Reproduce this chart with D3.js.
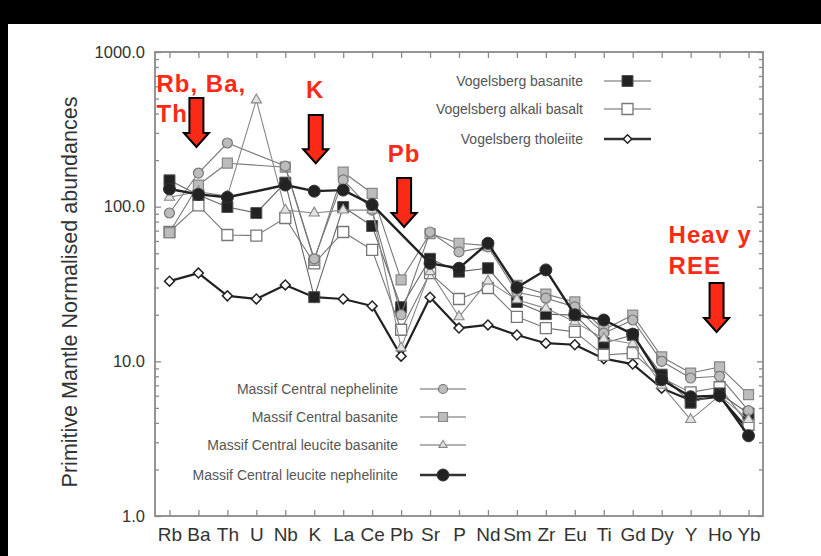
<!DOCTYPE html>
<html>
<head>
<meta charset="utf-8">
<script src="https://cdn.jsdelivr.net/npm/d3@7"></script>
<style>
  html, body { margin: 0; padding: 0; background: #000; }
  svg { display: block; }
  text { font-family: "Liberation Sans", Arial, Helvetica, sans-serif; }
</style>
</head>
<body>
<svg id="chart" width="821" height="556"></svg>
<script>
// Elements in spider-diagram order
const elements = ["Rb","Ba","Th","U","Nb","K","La","Ce","Pb","Sr","P","Nd","Sm","Zr","Eu","Ti","Gd","Dy","Y","Ho","Yb"];

// Primitive-mantle normalised abundances (null = not analysed)
const vogBasanite   = [148,119,99.5,91,143,26,99.5,75,22.4,46,38,40,24.2,20.2,19.9,13.1,14.8,8.2,5.4,6.2,4.6];
const vogAlkali     = [68.6,102,65.6,65,84.5,43,68.6,52.5,16,37.2,25.3,29.8,19.4,16.4,15.5,11,11.3,7.8,6.3,6.8,3.9];
const vogTholeiite  = [33,37.2,26.5,25.3,31.2,26,25.3,22.8,10.8,26,16.4,17.2,14.8,13.1,12.8,10.4,9.6,6.7,5.6,5.9,3.6];
const mcNephelinite = [91,165,258,null,183,46,149,95,20,68.6,51,55,28,25.6,22.5,15.2,18.5,10,7.8,8.0,4.8];
const mcBasanite    = [68,138,191,null,180,45,167,122,33.6,67,58,56,31,27.2,24.2,16,19.9,10.7,8.4,9.2,6.1];
const mcLeuBasanite = [115,125,117,490,95,91,95,95,12.2,38,19.4,33,25,22,18,14,13,7,4.2,6,4.2];
const mcLeuNephel   = [130,120,115,null,138,126,128,103,null,43,40,58,30,39,20,18.5,15,7.6,5.9,6.0,3.3];

const majorTicks = [1, 10, 100, 1000];
const tickLabels = ["1.0", "10.0", "100.0", "1000.0"];
const yTitle = "Primitive Mantle Normalised abundances";

// Series styling
const series = [
  { name: "Vogelsberg tholeiite", values: vogTholeiite, shape: "diamond", size: 7, fill: "#fff", stroke: "#222", sw: 1.5, line: "#222", lw: 2.2 },
  { name: "Vogelsberg alkali basalt", values: vogAlkali, shape: "square", size: 11, fill: "#fff", stroke: "#777", sw: 1.3, line: "#777", lw: 1.1 },
  { name: "Vogelsberg basanite", values: vogBasanite, shape: "square", size: 11, fill: "#222", stroke: "#555", sw: 1, line: "#666", lw: 1.1 },
  { name: "Massif Central basanite", values: mcBasanite, shape: "square", size: 10, fill: "#bcbcbc", stroke: "#888", sw: 1.2, line: "#777", lw: 1.1 },
  { name: "Massif Central nephelinite", values: mcNephelinite, shape: "circle", size: 10, fill: "#bcbcbc", stroke: "#777", sw: 1.2, line: "#777", lw: 1.1 },
  { name: "Massif Central leucite basanite", values: mcLeuBasanite, shape: "triangle", size: 10, fill: "#e2e2e2", stroke: "#888", sw: 1.1, line: "#888", lw: 1.1 },
  { name: "Massif Central leucite nephelinite", values: mcLeuNephel, shape: "circle", size: 12, fill: "#222", stroke: "#333", sw: 1, line: "#222", lw: 2.4 }
];
const byName = Object.fromEntries(series.map(s => [s.name, s]));

const legendTop = ["Vogelsberg basanite", "Vogelsberg alkali basalt", "Vogelsberg tholeiite"];
const legendBottom = ["Massif Central nephelinite", "Massif Central basanite", "Massif Central leucite basanite", "Massif Central leucite nephelinite"];

// Highlighted element groups (label baseline given as a value on the log axis)
const notes = [
  { lines: ["Rb, Ba,", "Th"], anchor: "start", el: "Rb", dx: -13, top: 551, lineGap: 30 },
  { lines: ["K"], anchor: "middle", el: "K", dx: 1, top: 504, lineGap: 0 },
  { lines: ["Pb"], anchor: "middle", el: "Pb", dx: 3, top: 194, lineGap: 0 },
  { lines: ["Heav y", "REE"], anchor: "start", el: "Ho", dx: -51, top: 58.2, lineGap: 31 }
];
const arrows = [
  { el: "Ba", dx: -2,  from: 504, to: 243 },
  { el: "K",  dx: 1.5, from: 391, to: 191 },
  { el: "Pb", dx: 3,   from: 153, to: 74 },
  { el: "Ho", dx: -3,  from: 32.1, to: 15.5 }
];

const svg = d3.select("#chart");
svg.append("rect").attr("x", 8).attr("y", 24).attr("width", 813).attr("height", 532).attr("fill", "#fff");

const L = 155, R = 763, T = 52, B = 516;
const x = d3.scalePoint().domain(elements).range([L, R]).padding(0.5);
const y = d3.scaleLog().domain([1, 1000]).range([B, T]);

const minorTicks = [];
[1, 10, 100].forEach(d => { for (let k = 2; k <= 9; k++) minorTicks.push(d * k); });

const axisColor = "#8a8a8a";
function styleAxis(g) {
  g.select(".domain").remove();
  g.selectAll(".tick line").attr("stroke", axisColor).attr("stroke-width", 1.3);
}

// Frame
svg.append("rect").attr("x", L).attr("y", T).attr("width", R - L).attr("height", B - T)
  .attr("fill", "none").attr("stroke", axisColor).attr("stroke-width", 1.8);

// Bottom axis with element labels
svg.append("g").attr("transform", `translate(0,${B})`)
  .call(d3.axisBottom(x).tickSizeInner(-6).tickSizeOuter(0).tickPadding(12))
  .call(styleAxis)
  .call(g => g.selectAll(".tick text").attr("font-size", 19).attr("fill", "#333")
    .attr("font-family", "Liberation Sans, Arial, sans-serif"));

// Top axis ticks
svg.append("g").attr("transform", `translate(0,${T})`)
  .call(d3.axisTop(x).tickSizeInner(-6).tickSizeOuter(0).tickFormat(""))
  .call(styleAxis);

// Left axis: majors with labels, minors without
svg.append("g").attr("transform", `translate(${L},0)`)
  .call(d3.axisLeft(y).tickValues(majorTicks).tickSizeInner(-6).tickSizeOuter(0).tickPadding(10)
    .tickFormat((d, i) => tickLabels[i]))
  .call(styleAxis)
  .call(g => g.selectAll(".tick text").attr("font-size", 16.5).attr("fill", "#333")
    .attr("font-family", "Liberation Sans, Arial, sans-serif"));
svg.append("g").attr("transform", `translate(${L},0)`)
  .call(d3.axisLeft(y).tickValues(minorTicks).tickSizeInner(-4).tickSizeOuter(0).tickFormat(""))
  .call(styleAxis);

// Right axis ticks
svg.append("g").attr("transform", `translate(${R},0)`)
  .call(d3.axisRight(y).tickValues(majorTicks).tickSizeInner(-6).tickSizeOuter(0).tickFormat(""))
  .call(styleAxis);
svg.append("g").attr("transform", `translate(${R},0)`)
  .call(d3.axisRight(y).tickValues(minorTicks).tickSizeInner(-4).tickSizeOuter(0).tickFormat(""))
  .call(styleAxis);

// Y title
svg.append("text")
  .attr("transform", `translate(77,292) rotate(-90)`)
  .attr("text-anchor", "middle").attr("font-size", 21.5).attr("fill", "#333")
  .text(yTitle);

// Marker path generator
function markerPath(shape, size) {
  if (shape === "square" || shape === "diamond") return d3.symbol().type(d3.symbolSquare).size(size * size)();
  if (shape === "circle") return d3.symbol().type(d3.symbolCircle).size(Math.PI * size * size / 4)();
  if (shape === "triangle") return d3.symbol().type(d3.symbolTriangle).size(size * size * 0.45)();
}
function markerTransform(shape, px, py) {
  return shape === "diamond" ? `translate(${px},${py}) rotate(45)` : `translate(${px},${py})`;
}

const line = d3.line().x(d => x(d.el)).y(d => y(d.v));
const plot = svg.append("g");

series.forEach(s => {
  const pts = elements.map((el, i) => ({ el, v: s.values[i] })).filter(d => d.v != null);
  const g = plot.append("g");
  g.append("path").datum(pts).attr("d", line)
    .attr("fill", "none").attr("stroke", s.line).attr("stroke-width", s.lw).attr("stroke-linejoin", "round");
  g.selectAll("path.m").data(pts).join("path").attr("class", "m")
    .attr("d", markerPath(s.shape, s.size))
    .attr("transform", d => markerTransform(s.shape, x(d.el), y(d.v)))
    .attr("fill", s.fill).attr("stroke", s.stroke).attr("stroke-width", s.sw);
});

// Legends
function drawLegend(names, textRight, lineX0, lineX1, rowYs, legendSize) {
  names.forEach((n, i) => {
    const s = byName[n];
    const yy = rowYs[i];
    svg.append("text").attr("x", textRight).attr("y", yy + 5).attr("text-anchor", "end")
      .attr("font-size", 14).attr("fill", "#555").text(n);
    svg.append("line").attr("x1", lineX0).attr("x2", lineX1).attr("y1", yy).attr("y2", yy)
      .attr("stroke", s.lw > 2 ? "#333" : "#666").attr("stroke-width", s.lw > 2 ? 2.4 : 1.2);
    const sz = legendSize[i];
    svg.append("path").attr("d", markerPath(s.shape, sz))
      .attr("transform", markerTransform(s.shape, (lineX0 + lineX1) / 2, yy))
      .attr("fill", s.fill).attr("stroke", s.stroke).attr("stroke-width", s.sw);
  });
}
drawLegend(legendTop, 583, 604, 651, [81, 109, 139], [11, 11, 6]);
drawLegend(legendBottom, 398, 420, 466, [389, 417, 445, 475], [9, 9, 8, 12]);

// Annotations
const red = "#fb2a17";
notes.forEach(n => {
  const t = svg.append("text").attr("x", x(n.el) + n.dx).attr("y", y(n.top))
    .attr("text-anchor", n.anchor).attr("font-size", 24).attr("font-weight", "bold")
    .attr("letter-spacing", 1).attr("fill", red);
  n.lines.forEach((ln, i) => {
    t.append("tspan").attr("x", x(n.el) + n.dx).attr("dy", i === 0 ? 0 : n.lineGap).text(ln);
  });
});

arrows.forEach(a => {
  const cx = x(a.el) + a.dx;
  const y0 = y(a.from), y2 = y(a.to);
  const headLen = 14, bw = 7, hw = 12.5;
  const y1 = y2 - headLen;
  const pts = [[cx - bw, y0], [cx + bw, y0], [cx + bw, y1], [cx + hw, y1], [cx, y2], [cx - hw, y1], [cx - bw, y1]];
  svg.append("path").attr("d", "M" + pts.map(p => p.join(",")).join("L") + "Z")
    .attr("fill", red).attr("stroke", "#000").attr("stroke-width", 2).attr("stroke-linejoin", "miter");
});
</script>
</body>
</html>
